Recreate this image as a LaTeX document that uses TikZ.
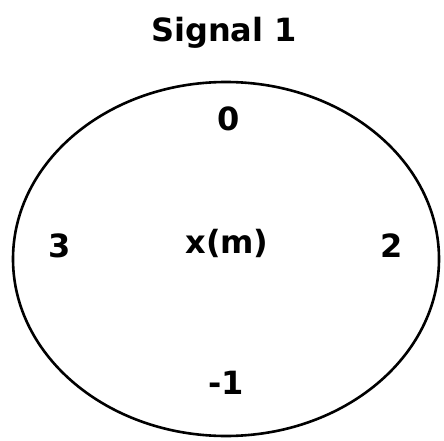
\documentclass[tikz,border=0pt]{standalone}
\usepackage{fontspec}
\setmainfont{DejaVu Sans}
\begin{document}
\begin{tikzpicture}[x=1pt,y=-1pt]
\useasboundingbox (0,0) rectangle (444,441);
\tikzset{lbl/.style={font=\fontsize{32}{36}\selectfont\bfseries, inner sep=0pt}}
\node[lbl] (title) at (224,33) {Signal 1};
\draw[line width=2.6pt] (226,259) ellipse [x radius=213, y radius=177];
\node[lbl] (top) at (229,119) {0};
\node[lbl] (left) at (60,246) {3};
\node[lbl] (mid) at (227,243) {x(m)};
\node[lbl] (right) at (392,246) {2};
\node[lbl] (bot) at (226,383) {-1};
\end{tikzpicture}
\end{document}
